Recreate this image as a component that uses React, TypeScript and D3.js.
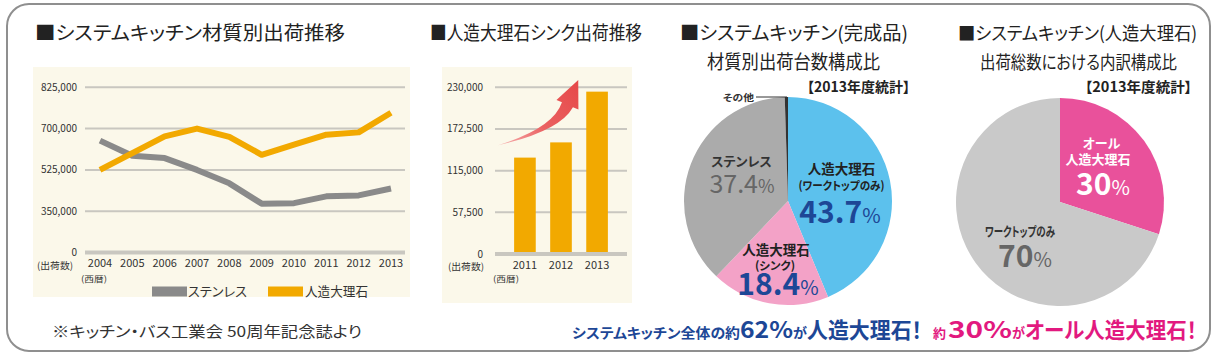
import React from "react";
import * as d3 from "d3";

const years = [2004, 2005, 2006, 2007, 2008, 2009, 2010, 2011, 2012, 2013];
const stainless = [649000, 585000, 575000, 525000, 468000, 382000, 384000, 413000, 417000, 446000];
const marble = [525000, 596000, 667000, 700000, 665000, 589000, 632000, 674000, 684000, 748000];
const lineTicks = [0, 350000, 525000, 700000, 825000];

const sinkYears = ["2011", "2012", "2013"];
const sinkValues = [133000, 154000, 224000];
const barTicks = [0, 57500, 115000, 172500, 230000];

const pie1Labels = ["人造大理石(ワークトップのみ)", "人造大理石(シンク)", "ステンレス", "その他"];
const pie1Values = [43.7, 18.4, 37.4, 0.5];
const pie2Labels = ["オール人造大理石", "ワークトップのみ"];
const pie2Values = [30, 70];

const FONT = "'Noto Sans CJK JP', 'Noto Sans', sans-serif";
const fmt = d3.format(",");

export default function App() {
  const lx = d3.scaleLinear().domain([2004, 2013]).range([100, 391]);
  const ly = d3
    .scaleLinear()
    .domain(lineTicks)
    .range(lineTicks.map((_, i) => 252.5 - i * 41.3));
  const line = d3
    .line<number>()
    .x((_, i) => lx(years[i]))
    .y((d) => ly(d));

  const bx = d3.scaleBand().domain(sinkYears).range([495, 627]).paddingInner(0.4).paddingOuter(0.53);
  const by = d3.scaleLinear().domain([0, 230000]).range([254, 87.3]);

  const T: [number, number] = [bx("2011")! - 16, by(150000)];
  const tip: [number, number] = [bx("2013")! - 8, by(240000)];
  const dvec = [0.4, -0.915];
  const nvec = [0.915, 0.4];
  const B: [number, number] = [tip[0] - dvec[0] * 27, tip[1] - dvec[1] * 27];
  const C: [number, number] = [B[0] - dvec[0] * 27.2, B[1] - dvec[1] * 27.2];
  const ap = d3.path();
  ap.moveTo(T[0], T[1]);
  ap.quadraticCurveTo(C[0] - nvec[0] * 3.5, C[1] - nvec[1] * 3.5, B[0] - nvec[0] * 6, B[1] - nvec[1] * 6);
  ap.lineTo(B[0] - nvec[0] * 12, B[1] - nvec[1] * 12);
  ap.lineTo(tip[0], tip[1]);
  ap.lineTo(B[0] + nvec[0] * 12, B[1] + nvec[1] * 12);
  ap.lineTo(B[0] + nvec[0] * 6, B[1] + nvec[1] * 6);
  ap.quadraticCurveTo(C[0] + nvec[0] * 3.5, C[1] + nvec[1] * 3.5, T[0], T[1]);
  ap.closePath();

  const pie = d3.pie<number>().sort(null).value((d) => d);
  const arc1 = d3.arc<d3.PieArcDatum<number>>().innerRadius(0).outerRadius(104);
  const arc2 = d3.arc<d3.PieArcDatum<number>>().innerRadius(0).outerRadius(104);
  const p1 = pie(pie1Values);
  const p2 = pie(pie2Values);
  const pie1Colors = ["#5cc1ed", "#f3a2c7", "#ababab", "#333333"];
  const pie2Colors = ["#e9519b", "#c9c9c9"];
  const c1: [number, number] = [788, 201];
  const c2: [number, number] = [1060, 202];

  const navy = "#1d4796";
  const pink = "#e2197f";

  return (
    <svg
      width={1214}
      height={357}
      style={{ position: "absolute", left: 0, top: 0, display: "block", fontFeatureSettings: '"palt"' }}
      fontFamily={FONT}
    >
      <defs>
        <linearGradient id="arrowGrad" gradientUnits="userSpaceOnUse" x1={T[0]} y1={T[1]} x2={tip[0]} y2={tip[1]}>
          <stop offset="0%" stopColor="#f7b0b0" />
          <stop offset="45%" stopColor="#ea6262" />
          <stop offset="100%" stopColor="#e64848" />
        </linearGradient>
      </defs>
      <rect x={0} y={0} width={1214} height={357} fill="#ffffff" />
      <rect x={7} y={4} width={1203} height={347} rx={22} fill="#ffffff" stroke="#8f8f8f" strokeWidth={2} />

      {/* ---------- Line chart ---------- */}
      <text x={35} y={40} fontSize={19} fill="#222" textLength={310} lengthAdjust="spacingAndGlyphs">
        ■システムキッチン材質別出荷推移
      </text>
      <rect x={33} y={67} width={377} height={230} fill="#fbf8ea" />
      {lineTicks.map((t) => (
        <g key={t}>
          <line x1={85} x2={405} y1={ly(t)} y2={ly(t)} stroke="#c9c7c0" strokeWidth={t === 0 ? 4 : 2} />
          <text x={77} y={ly(t) + 3.5} fontSize={10} fill="#333" textAnchor="end">
            {fmt(t)}
          </text>
        </g>
      ))}
      {years.map((yr) => (
        <text key={yr} x={lx(yr)} y={267} fontSize={11} fill="#333" textAnchor="middle">
          {yr}
        </text>
      ))}
      <text x={37} y={268.5} fontSize={9.5} fill="#333" textLength={36} lengthAdjust="spacingAndGlyphs">
        (出荷数)
      </text>
      <text x={81} y={281.5} fontSize={8.5} fill="#333" textLength={26} lengthAdjust="spacingAndGlyphs">
        (西暦)
      </text>
      <path d={line(stainless) || ""} fill="none" stroke="#8a8a8a" strokeWidth={6} strokeLinejoin="round" />
      <path d={line(marble) || ""} fill="none" stroke="#f2a900" strokeWidth={6} strokeLinejoin="round" />
      <rect x={152} y={286.5} width={35} height={10} fill="#8a8a8a" />
      <text x={188} y={296} fontSize={13} fill="#333" textLength={59} lengthAdjust="spacingAndGlyphs">
        ステンレス
      </text>
      <rect x={268} y={286.5} width={35} height={10} fill="#f2a900" />
      <text x={305} y={296} fontSize={13} fill="#333" textLength={63} lengthAdjust="spacingAndGlyphs">
        人造大理石
      </text>

      {/* ---------- Bar chart ---------- */}
      <text x={430} y={40} fontSize={19} fill="#222" textLength={212} lengthAdjust="spacingAndGlyphs">
        ■人造大理石シンク出荷推移
      </text>
      <rect x={442} y={67} width={190} height={236} fill="#fbf8ea" />
      {barTicks.map((t) => (
        <g key={t}>
          <line x1={495} x2={627} y1={by(t)} y2={by(t)} stroke="#c9c7c0" strokeWidth={t === 0 ? 4 : 2} />
          <text x={483} y={by(t) + 3.5} fontSize={10} fill="#333" textAnchor="end">
            {fmt(t)}
          </text>
        </g>
      ))}
      {sinkYears.map((yr, i) => (
        <rect
          key={yr}
          x={bx(yr)}
          y={by(sinkValues[i])}
          width={bx.bandwidth()}
          height={by(0) - by(sinkValues[i]) - 2}
          fill="#f2a900"
        />
      ))}
      {sinkYears.map((yr) => (
        <text key={yr} x={bx(yr)! + bx.bandwidth() / 2} y={269} fontSize={11} fill="#333" textAnchor="middle">
          {yr}
        </text>
      ))}
      <text x={448} y={269.5} fontSize={9.5} fill="#333" textLength={36} lengthAdjust="spacingAndGlyphs">
        (出荷数)
      </text>
      <text x={493} y={282} fontSize={8.5} fill="#333" textLength={26} lengthAdjust="spacingAndGlyphs">
        (西暦)
      </text>
      <path d={ap.toString()} fill="url(#arrowGrad)" />

      {/* ---------- Pie 1 ---------- */}
      <text x={680} y={40} fontSize={19} fill="#222" textLength={228} lengthAdjust="spacingAndGlyphs">
        ■システムキッチン(完成品)
      </text>
      <text x={707} y={69} fontSize={19} fill="#222" textLength={173} lengthAdjust="spacingAndGlyphs">
        材質別出荷台数構成比
      </text>
      <text x={807} y={92} fontSize={14} fontWeight="bold" fill="#222" textLength={103} lengthAdjust="spacingAndGlyphs">
        【2013年度統計】
      </text>
      <g transform={`translate(${c1[0]},${c1[1]})`}>
        {p1.map((d, i) => (
          <path key={pie1Labels[i]} d={arc1(d) || ""} fill={pie1Colors[i]} />
        ))}
      </g>
      <polyline points={`756,97 ${c1[0] - 1},97 ${c1[0] - 1},103`} fill="none" stroke="#333" strokeWidth={1} />
      <text x={723} y={100.5} fontSize={9.5} fontWeight="bold" fill="#333" textLength={31} lengthAdjust="spacingAndGlyphs">
        その他
      </text>
      <text x={741.5} y={166} fontSize={13} fontWeight="bold" fill="#333" textAnchor="middle">
        ステンレス
      </text>
      <text x={742} y={193} fontSize={25} fill="#666" textAnchor="middle">
        37.4<tspan fontSize={18}>%</tspan>
      </text>
      <text x={841.5} y={174} fontSize={13.5} fontWeight="bold" fill="#222" textAnchor="middle">
        人造大理石
      </text>
      <text x={841.5} y={190} fontSize={11.5} fontWeight="bold" fill="#222" textAnchor="middle" textLength={86} lengthAdjust="spacingAndGlyphs">
        (ワークトップのみ)
      </text>
      <text x={840} y={222.5} fontSize={30} fontWeight="bold" fill={navy} textAnchor="middle">
        43.7<tspan fontSize={20} fontWeight="normal">%</tspan>
      </text>
      <text x={776} y={255} fontSize={13.5} fontWeight="bold" fill="#222" textAnchor="middle">
        人造大理石
      </text>
      <text x={775} y={270} fontSize={11.5} fontWeight="bold" fill="#222" textAnchor="middle">
        (シンク)
      </text>
      <text x={778} y={295} fontSize={30} fontWeight="bold" fill={navy} textAnchor="middle">
        18.4<tspan fontSize={20} fontWeight="normal">%</tspan>
      </text>

      {/* ---------- Pie 2 ---------- */}
      <text x={958} y={40} fontSize={18} fill="#222" textLength={239} lengthAdjust="spacingAndGlyphs">
        ■システムキッチン(人造大理石)
      </text>
      <text x={980} y={69} fontSize={18} fill="#222" textLength={197} lengthAdjust="spacingAndGlyphs">
        出荷総数における内訳構成比
      </text>
      <text x={1085} y={92} fontSize={14} fontWeight="bold" fill="#222" textLength={107} lengthAdjust="spacingAndGlyphs">
        【2013年度統計】
      </text>
      <g transform={`translate(${c2[0]},${c2[1]})`}>
        {p2.map((d, i) => (
          <path key={pie2Labels[i]} d={arc2(d) || ""} fill={pie2Colors[i]} />
        ))}
      </g>
      <text x={1101.5} y={148} fontSize={13} fontWeight="bold" fill="#fff" textAnchor="middle">
        オール
      </text>
      <text x={1098} y={163.5} fontSize={13} fontWeight="bold" fill="#fff" textAnchor="middle">
        人造大理石
      </text>
      <text x={1103} y={195} fontSize={30} fontWeight="bold" fill="#fff" textAnchor="middle">
        30<tspan fontSize={20} fontWeight="normal">%</tspan>
      </text>
      <text x={1020} y={236} fontSize={13} fontWeight="bold" fill="#333" textAnchor="middle" textLength={70} lengthAdjust="spacingAndGlyphs">
        ワークトップのみ
      </text>
      <text x={1025} y={267} fontSize={30} fontWeight="bold" fill="#666" textAnchor="middle">
        70<tspan fontSize={20} fontWeight="normal">%</tspan>
      </text>

      {/* ---------- Footer ---------- */}
      <text x={52} y={337} fontSize={15} fill="#333" textLength={310} lengthAdjust="spacingAndGlyphs">
        ※キッチン・バス工業会 50周年記念誌より
      </text>
      <g fontWeight="bold" fill={navy}>
        <text x={572} y={338} fontSize={14} textLength={168} lengthAdjust="spacingAndGlyphs">
          システムキッチン全体の約
        </text>
        <text x={740} y={338} fontSize={23} textLength={53} lengthAdjust="spacingAndGlyphs">
          62%
        </text>
        <text x={793} y={338} fontSize={14} textLength={14} lengthAdjust="spacingAndGlyphs">
          が
        </text>
        <text x={807} y={338} fontSize={22} textLength={115} lengthAdjust="spacingAndGlyphs">
          人造大理石！
        </text>
      </g>
      <g fontWeight="bold" fill={pink}>
        <text x={933} y={338} fontSize={13} textLength={13} lengthAdjust="spacingAndGlyphs">
          約
        </text>
        <text x={948} y={338} fontSize={23} textLength={64} lengthAdjust="spacingAndGlyphs">
          30%
        </text>
        <text x={1012} y={338} fontSize={14} textLength={13} lengthAdjust="spacingAndGlyphs">
          が
        </text>
        <text x={1025} y={338} fontSize={22} textLength={172} lengthAdjust="spacingAndGlyphs">
          オール人造大理石！
        </text>
      </g>
    </svg>
  );
}
